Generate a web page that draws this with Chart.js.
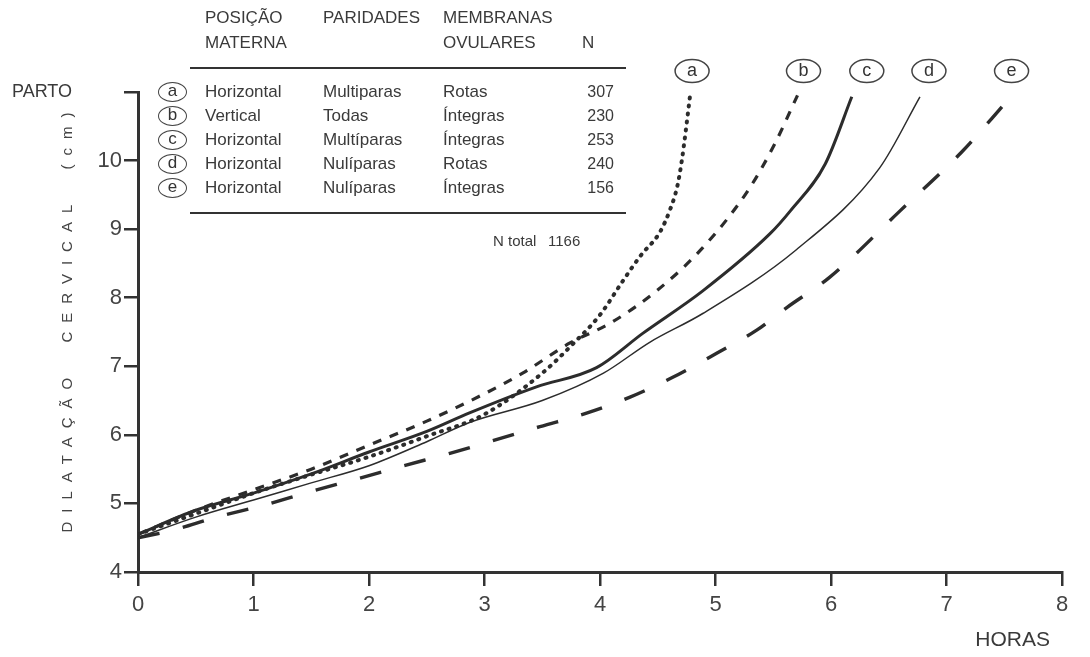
<!DOCTYPE html>
<html>
<head>
<meta charset="utf-8">
<script src="https://cdn.jsdelivr.net/npm/chart.js@4.4.1/dist/chart.umd.min.js"></script>
<style>
  html, body { margin: 0; padding: 0; background: #ffffff; }
  #wrap { position: relative; width: 1090px; height: 657px; }
  canvas { position: absolute; left: 0; top: 0; }
  .t { position: absolute; font-family: "Liberation Sans", Arial, sans-serif; font-size: 17px; color: #3a3a3a; line-height: 18px; white-space: nowrap; }
  .rule { position: absolute; height: 2px; background: #333; }
  .circ { position: absolute; width: 29px; height: 20px; border: 1.5px solid #444; border-radius: 50%; box-sizing: border-box;
          font-family: "Liberation Sans", Arial, sans-serif; font-size: 17px; line-height: 16px; text-align: center; color: #333; }
</style>
</head>
<body>
<div id="wrap">
  <canvas id="c" width="1090" height="657"></canvas>
  <div id="tbl"></div>
</div>
<script>
// ---- data ----
const seriesKeys = ['a', 'b', 'c', 'd', 'e'];

const hoursA = [0, 0.5, 1, 1.5, 2, 2.5, 3, 3.5, 3.75, 4, 4.2, 4.35, 4.52, 4.61, 4.67, 4.71, 4.78];
const dilA   = [4.55, 4.85, 5.15, 5.42, 5.68, 5.98, 6.3, 6.9, 7.3, 7.75, 8.25, 8.61, 8.96, 9.3, 9.63, 10.02, 10.95];

const hoursB = [0, 0.5, 1, 1.5, 2, 2.5, 3, 3.33, 3.74, 4.09, 4.49, 4.89, 5.28, 5.5, 5.71];
const dilB   = [4.55, 4.9, 5.2, 5.5, 5.85, 6.2, 6.6, 6.9, 7.34, 7.63, 8.1, 8.73, 9.56, 10.2, 10.95];

const hoursC = [0, 0.5, 1, 1.5, 2, 2.5, 2.87, 3.45, 3.97, 4.37, 4.89, 5.47, 5.65, 5.95, 6.18];
const dilC   = [4.55, 4.9, 5.15, 5.43, 5.75, 6.05, 6.32, 6.7, 6.98, 7.48, 8.1, 8.93, 9.27, 9.95, 10.93];

const hoursD = [0, 0.5, 1, 1.5, 2, 2.5, 2.87, 3.5, 4.03, 4.43, 4.89, 5.7, 6.42, 6.77];
const dilD   = [4.5, 4.8, 5.05, 5.3, 5.55, 5.9, 6.18, 6.5, 6.9, 7.35, 7.77, 8.7, 9.89, 10.93];

const hoursE = [0, 0.28, 0.68, 1.08, 1.49, 1.9, 2.3, 2.7, 3.16, 3.48, 3.89, 4.26, 4.63, 5.01, 5.36, 5.62, 5.99, 6.6, 7.14, 7.52];
const dilE   = [4.5, 4.6, 4.8, 4.97, 5.17, 5.36, 5.55, 5.73, 5.96, 6.12, 6.32, 6.55, 6.84, 7.19, 7.53, 7.86, 8.3, 9.27, 10.14, 10.86];

const xTicks = [0, 1, 2, 3, 4, 5, 6, 7, 8];
const yTicks = [4, 5, 6, 7, 8, 9, 10, 11];
const yTopLabel = 'PARTO';
const xTitle = 'HORAS';
const yTitle = 'DILATAÇÃO  CERVICAL  (cm)';

// legend table
const headPosicao = ['POSIÇÃO', 'MATERNA'];
const headParidades = ['PARIDADES'];
const headMembranas = ['MEMBRANAS', 'OVULARES'];
const headN = 'N';
const posicoes = ['Horizontal', 'Vertical', 'Horizontal', 'Horizontal', 'Horizontal'];
const paridades = ['Multiparas', 'Todas', 'Multíparas', 'Nulíparas', 'Nulíparas'];
const membranas = ['Rotas', 'Íntegras', 'Íntegras', 'Rotas', 'Íntegras'];
const counts = [307, 230, 253, 240, 156];
const totalLabel = 'N total';
const totalN = 1166;

// ---- table (HTML) ----
const tbl = document.getElementById('tbl');
function addText(txt, left, top, extra) {
  const d = document.createElement('div');
  d.className = 't';
  d.textContent = txt;
  d.style.left = left + 'px';
  d.style.top = top + 'px';
  if (extra) Object.assign(d.style, extra);
  tbl.appendChild(d);
  return d;
}
function addRule(top) {
  const r = document.createElement('div');
  r.className = 'rule';
  r.style.left = '190px'; r.style.width = '436px'; r.style.top = top + 'px';
  tbl.appendChild(r);
}
headPosicao.forEach((h, i) => addText(h, 205, 9 + i * 25));
headParidades.forEach((h, i) => addText(h, 323, 9 + i * 25));
headMembranas.forEach((h, i) => addText(h, 443, 9 + i * 25));
addText(headN, 582, 34);
addRule(67);
const rowTop0 = 83, rowStep = 24;
seriesKeys.forEach((k, i) => {
  const top = rowTop0 + i * rowStep;
  const c = document.createElement('div');
  c.className = 'circ';
  c.textContent = k;
  c.style.left = '158px';
  c.style.top = (top - 1) + 'px';
  tbl.appendChild(c);
  addText(posicoes[i], 205, top);
  addText(paridades[i], 323, top);
  addText(membranas[i], 443, top);
  addText(String(counts[i]), 0, top, { left: 'auto', right: (1090 - 614) + 'px', textAlign: 'right', fontSize: '16px' });
});
addRule(212);
addText(totalLabel, 493, 232, { fontSize: '15px' });
addText(String(totalN), 548, 232, { fontSize: '15px' });

// ---- chart ----
const ink = '#2c2c2c';
function zip(h, v) { return h.map((x, i) => ({ x: x, y: v[i] })); }

const datasets = [
  { label: 'a', data: zip(hoursA, dilA), borderColor: ink, borderWidth: 4, borderDash: [1, 7], borderCapStyle: 'round', nudge: 2 },
  { label: 'b', data: zip(hoursB, dilB), borderColor: ink, borderWidth: 3.2, borderDash: [9, 9], nudge: 6 },
  { label: 'c', data: zip(hoursC, dilC), borderColor: ink, borderWidth: 3, nudge: 15 },
  { label: 'd', data: zip(hoursD, dilD), borderColor: ink, borderWidth: 1.5, nudge: 9 },
  { label: 'e', data: zip(hoursE, dilE), borderColor: ink, borderWidth: 3.4, borderDash: [22, 24], nudge: 5 }
].map(d => Object.assign({ pointRadius: 0, fill: false, cubicInterpolationMode: 'monotone' }, d));

const deco = {
  id: 'deco',
  afterDraw(chart) {
    const { ctx, scales: { x, y } } = chart;
    ctx.save();
    ctx.fillStyle = '#3a3a3a';
    // PARTO
    ctx.font = '18px "Liberation Sans", Arial, sans-serif';
    ctx.textAlign = 'left';
    ctx.textBaseline = 'middle';
    ctx.fillText(yTopLabel, 12, y.getPixelForValue(11));
    // HORAS
    ctx.font = '21px "Liberation Sans", Arial, sans-serif';
    ctx.textAlign = 'right';
    ctx.fillText(xTitle, x.right - 12, 640);
    // Y title
    ctx.save();
    ctx.translate(68, (y.top + y.bottom) / 2 - 14);
    ctx.rotate(-Math.PI / 2);
    ctx.font = '15px "Liberation Sans", Arial, sans-serif';
    ctx.fillStyle = '#444';
    try { ctx.letterSpacing = '9px'; } catch (e) {}
    ctx.textAlign = 'center';
    ctx.fillText(yTitle, 0, 0);
    ctx.restore();
    // curve labels
    chart.data.datasets.forEach(ds => {
      const last = ds.data[ds.data.length - 1];
      const cx = x.getPixelForValue(last.x) + ds.nudge;
      const cy = y.getPixelForValue(11) - 21;
      ctx.beginPath();
      ctx.ellipse(cx, cy, 17, 11.5, 0, 0, Math.PI * 2);
      ctx.lineWidth = 1.5;
      ctx.strokeStyle = '#444';
      ctx.stroke();
      ctx.font = '18px "Liberation Sans", Arial, sans-serif';
      ctx.textAlign = 'center';
      ctx.textBaseline = 'middle';
      ctx.fillStyle = '#333';
      ctx.fillText(ds.label, cx, cy);
    });
    ctx.restore();
  }
};

new Chart(document.getElementById('c'), {
  type: 'line',
  data: { datasets: datasets },
  plugins: [deco],
  options: {
    responsive: false,
    animation: false,
    layout: { padding: { top: 92, right: 28, left: 0, bottom: 0 } },
    plugins: { legend: { display: false }, tooltip: { enabled: false } },
    scales: {
      x: {
        type: 'linear', min: 0, max: 8,
        afterFit: s => { s.height = 85; },
        afterBuildTicks: s => { s.ticks = xTicks.map(v => ({ value: v })); },
        grid: { drawOnChartArea: false, drawTicks: true, tickLength: 14, tickColor: '#333', lineWidth: 2.5 },
        border: { display: true, color: '#333', width: 3 },
        ticks: { color: '#444', padding: 6, font: { family: '"Liberation Sans", Arial, sans-serif', size: 22 } }
      },
      y: {
        type: 'linear', min: 4, max: 11,
        afterFit: s => { s.width = 138; },
        afterBuildTicks: s => { s.ticks = yTicks.map(v => ({ value: v })); },
        grid: { drawOnChartArea: false, drawTicks: true, tickLength: 14, tickColor: '#333', lineWidth: 2.5 },
        border: { display: true, color: '#333', width: 3 },
        ticks: { color: '#444', padding: 2, font: { family: '"Liberation Sans", Arial, sans-serif', size: 22 },
                 callback: v => (v === 11 ? '' : String(v)) }
      }
    }
  }
});
</script>
</body>
</html>
